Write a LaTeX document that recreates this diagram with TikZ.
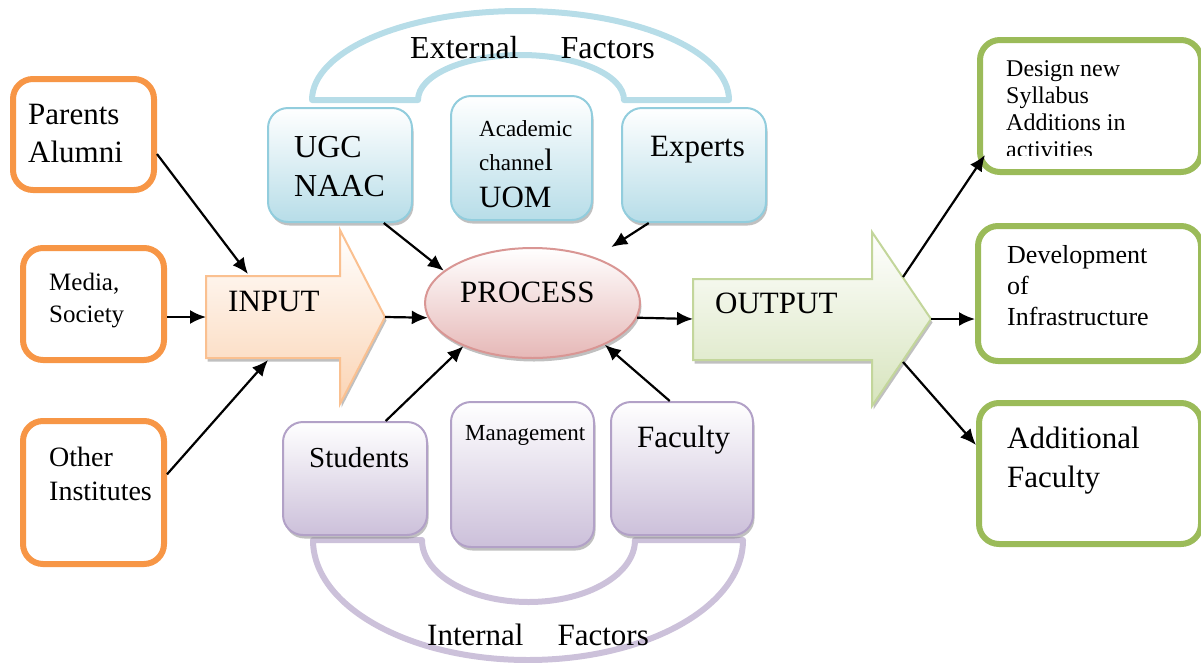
\documentclass[tikz,border=0pt]{standalone}
\usepackage{fontspec}
\setmainfont{Liberation Serif}
\usetikzlibrary{arrows.meta,shadows,calc,shapes.geometric}
\definecolor{orangeB}{RGB}{247,150,70}
\definecolor{greenB}{RGB}{155,187,89}
\definecolor{blueB}{RGB}{146,205,221}
\definecolor{blueF}{RGB}{183,221,232}
\definecolor{purpB}{RGB}{178,161,199}
\definecolor{purpF}{RGB}{204,192,218}
\definecolor{procB}{RGB}{217,150,148}
\definecolor{procF}{RGB}{230,184,183}
\definecolor{inB}{RGB}{250,192,144}
\definecolor{inF}{RGB}{251,212,180}
\definecolor{outB}{RGB}{195,214,155}
\definecolor{outF}{RGB}{215,228,189}
\definecolor{arcB}{RGB}{183,221,232}
\definecolor{arcP}{RGB}{204,193,218}
\begin{document}
\begin{tikzpicture}[x=1pt,y=-1pt,
  shad/.style={drop shadow={shadow xshift=1.5pt,shadow yshift=-3.5pt,fill=black!45,opacity=.55}},
  obox/.style={draw=orangeB,line width=6pt,rounded corners=20pt,fill=white,inner sep=0pt},
  gbox/.style={draw=greenB,line width=6pt,rounded corners=20pt,fill=white,inner sep=0pt},
  bbox/.style={draw=blueB,line width=2pt,rounded corners=20pt,top color=white,bottom color=blueF,shad,inner sep=0pt},
  pbox/.style={draw=purpB,line width=2pt,rounded corners=20pt,top color=white,bottom color=purpF,shad,inner sep=0pt},
  txt/.style={inner sep=0pt,anchor=base west,align=left},
  conn/.style={line width=2.2pt,-{Latex[length=16pt,width=14pt]}},
  band/.style={line width=6pt,line join=round}
]
\useasboundingbox (0,0) rectangle (1201,662);

% factor bands
\draw[band,draw=arcB] (312,100) arc[start angle=180,end angle=0,x radius=208.5pt,y radius=89pt]
  -- (624,100) arc[start angle=0,end angle=180,x radius=103pt,y radius=45pt] -- cycle;
\draw[band,draw=arcP] (313,540) arc[start angle=180,end angle=360,x radius=215pt,y radius=120pt]
  -- (635,540) arc[start angle=0,end angle=-180,x radius=106.5pt,y radius=62pt] -- cycle;
\node[txt,font=\fontsize{32}{38}\selectfont] (extT) at (410,58) {External\hspace{42pt}Factors};
\node[txt,font=\fontsize{31}{38}\selectfont] (intT) at (427,645) {Internal\hspace{34pt}Factors};

% left boxes
\node[obox,minimum width=141pt,minimum height=111pt] (pa) at (83.5,134.5) {};
\node[obox,minimum width=141pt,minimum height=112pt] (ms) at (93.5,304) {};
\node[obox,minimum width=141pt,minimum height=143pt] (oi) at (93.5,492.5) {};
\node[txt,font=\fontsize{31}{38}\selectfont] (paT) at (28,162) {Parents\\Alumni};
\node[txt,font=\fontsize{25}{32}\selectfont] (msT) at (49,322) {Media,\\Society};
\node[txt,font=\fontsize{28}{34}\selectfont] (oiT) at (49,500) {Other\\Institutes};

% external factor boxes
\node[bbox,minimum width=144pt,minimum height=114pt] (ugc) at (340,165) {};
\node[bbox,minimum width=141pt,minimum height=124pt] (acad) at (521.5,158) {};
\node[bbox,minimum width=144pt,minimum height=114pt] (exp) at (694,165) {};
\node[txt,font=\fontsize{32}{39}\selectfont] (ugcT) at (294,196) {UGC\\NAAC};
\node[txt,font=\fontsize{23}{28}\selectfont] (acT1) at (479,136) {Academic};
\node[txt,font=\fontsize{23}{28}\selectfont] (acT2) at (479,170) {channe{\fontsize{31}{31}\selectfont l}};
\node[txt,font=\fontsize{31}{38}\selectfont] (acT3) at (479,207) {UOM};
\node[txt,font=\fontsize{31}{38}\selectfont] (expT) at (650,156) {Experts};

% internal factor boxes
\node[pbox,minimum width=144pt,minimum height=113pt] (stu) at (355,478.5) {};
\node[pbox,minimum width=143pt,minimum height=145pt] (mgmt) at (522.5,474.5) {};
\node[pbox,minimum width=142pt,minimum height=133pt] (fac) at (682,468.5) {};
\node[txt,font=\fontsize{29}{35}\selectfont] (stuT) at (309,467) {Students};
\begin{scope}
\clip (455,400) rectangle (588,470);
\node[txt,font=\fontsize{23}{28}\selectfont] (mgT) at (465,440) {Management};
\end{scope}
\node[txt,font=\fontsize{31}{38}\selectfont] (facT) at (637,447) {Faculty};

% input / process / output
\path[draw=inB,line width=2pt,line join=miter,top color=white,bottom color=inF,shad]
  (206,276) -- (340,276) -- (340,230) -- (385,317) -- (340,404) -- (340,358) -- (206,358) -- cycle;
\path[draw=outB,line width=2pt,line join=miter,top color=white,bottom color=outF,shad]
  (693,279) -- (872,279) -- (872,232) -- (931,319) -- (872,406) -- (872,360) -- (693,360) -- cycle;
\coordinate (inTip) at (385,317);
\coordinate (inW) at (206,317);
\coordinate (inN) at (248,274);
\coordinate (inS) at (268,360);
\coordinate (outTip) at (931,319);
\coordinate (outW) at (693,319);
\coordinate (outUp) at (903,277);
\coordinate (outDn) at (903,362);
\node[txt,font=\fontsize{31}{38}\selectfont] (inT) at (228,311) {INPUT};
\node[txt,font=\fontsize{31}{38}\selectfont] (outT) at (715,313) {OUTPUT};
\node[ellipse,draw=procB,line width=2pt,top color=white,bottom color=procF,shad,
  minimum width=215pt,minimum height=110pt,inner sep=0pt] (proc) at (532.5,303) {};
\node[txt,font=\fontsize{31}{38}\selectfont] (procT) at (460,302) {PROCESS};

% right boxes
\node[gbox,minimum width=221pt,minimum height=132pt] (ds) at (1090.5,106) {};
\node[gbox,minimum width=223pt,minimum height=135pt] (di) at (1089.5,293.5) {};
\node[gbox,minimum width=222pt,minimum height=141pt] (af) at (1090,473.5) {};
\begin{scope}
\clip (1000,40) rectangle (1190,155);
\node[txt,font=\fontsize{24}{26.7}\selectfont] (dsT) at (1006,157) {Design new\\Syllabus\\Additions in\\activities};
\end{scope}
\node[txt,font=\fontsize{26}{31}\selectfont] (diT) at (1007,325) {Development\\of\\Infrastructure};
\node[txt,font=\fontsize{31}{39}\selectfont] (afT) at (1007,487) {Additional\\Faculty};

% connectors
\draw[conn] ($(pa.north east)!0.667!(pa.south east)$) -- (inN);
\draw[conn] (ms.east |- inW) -- (inW);
\draw[conn] ($(oi.north east)!0.378!(oi.south east)$) -- (inS);
\draw[conn] ($(ugc.south west)!0.8!(ugc.south east)$) -- (proc.160);
\draw[conn,shorten >=19pt] ($(exp.south west)!0.19!(exp.south east)$) -- (proc.36);
\draw[conn] (inTip) -- (proc.188);
\draw[conn] ($(stu.north west)!0.71!(stu.north east)$) -- (proc.212);
\draw[conn] ($(fac.north west)!0.415!(fac.north east)$) -- (proc.-30);
\draw[conn] (proc.-8) -- (outW);
\draw[conn] (outUp) -- ($(ds.south west)+(8,-20)$);
\draw[conn] (outTip) -- (outTip -| di.west);
\draw[conn] (outDn) -- ($(af.north west)+(0,45)$);
\end{tikzpicture}
\end{document}
